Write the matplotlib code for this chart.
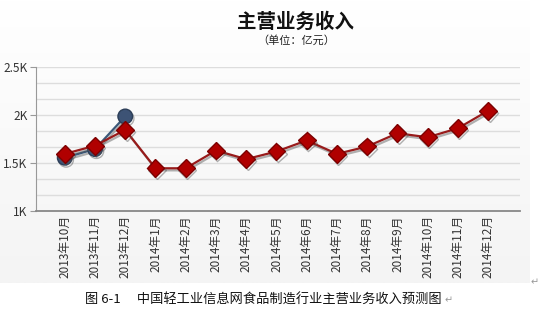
import numpy as np
import matplotlib
matplotlib.use('Agg')
from matplotlib import pyplot as plt
from matplotlib.ticker import FixedLocator
from matplotlib.colors import LinearSegmentedColormap
import matplotlib.patheffects as pe

plt.rcParams['font.family'] = ['Noto Sans CJK SC', 'DejaVu Sans']

months = ['2013年10月', '2013年11月', '2013年12月', '2014年1月', '2014年2月', '2014年3月',
          '2014年4月', '2014年5月', '2014年6月', '2014年7月', '2014年8月', '2014年9月',
          '2014年10月', '2014年11月', '2014年12月']
forecast = [1595, 1680, 1845, 1445, 1445, 1630, 1540, 1620, 1735, 1595, 1672, 1810, 1768, 1862, 2045]
actual = [1555, 1645, 1985]
ytick_vals = [1000, 1500, 2000, 2500]
ytick_labels = ['1K', '1.5K', '2K', '2.5K']

fig = plt.figure(figsize=(5.55, 3.29), dpi=100)

# faint grey backdrop of the chart picture (white at top, light grey at bottom)
bg = fig.add_axes([0, 1 - 283 / 329, 530 / 555, 283 / 329])
cmap = LinearSegmentedColormap.from_list('bg', ['#ffffff', '#f4f4f4'])
grad = np.linspace(0, 1, 100).reshape(-1, 1)
bg.imshow(grad, cmap=cmap, vmin=0, vmax=1, aspect='auto', extent=[0, 1, 0, 1], origin='upper')
bg.axis('off')

ax = fig.add_axes([36 / 555, 1 - 211 / 329, 484 / 555, 144 / 329])
ax.patch.set_alpha(0)

x = np.arange(len(months))
shadow = [pe.SimpleLineShadow(offset=(1, -1.5), shadow_color='#555555', alpha=0.45), pe.Normal()]

ax.plot(x[:len(actual)], actual, color='#3b5878', lw=1.6, marker='o', markersize=10.5,
        markerfacecolor='#3d5375', markeredgecolor='#2c3e58', zorder=3, path_effects=shadow)
ax.plot(x, forecast, color='#981b1b', lw=1.6, marker='D', markersize=9,
        markerfacecolor='#b00000', markeredgecolor='#7c0000', zorder=4, path_effects=shadow)

ax.set_xlim(-0.95, 15.05)
ax.set_ylim(1000, 2500)
ax.set_xticks(x)
ax.set_xticklabels(months, rotation=90, fontsize=8.5, color='#333333')
ax.set_yticks(ytick_vals)
ax.set_yticklabels(ytick_labels, fontsize=8.5, color='#333333')
ax.yaxis.set_minor_locator(FixedLocator([1000 + k * 500 / 3 for k in range(10)]))
ax.grid(axis='y', which='both', color='#dddddd', lw=1)
ax.set_axisbelow(True)
ax.tick_params(axis='x', length=0, pad=3)
ax.tick_params(axis='y', which='major', length=4, color='#999999', pad=2)
ax.tick_params(axis='y', which='minor', length=0)
for s in ['top', 'right']:
    ax.spines[s].set_visible(False)
ax.spines['left'].set_color('#999999')
ax.spines['bottom'].set_color('#888888')
ax.spines['bottom'].set_linewidth(1.3)

fig.text(296 / 555, 1 - 22 / 329, '主营业务收入', fontsize=14, fontweight='bold',
         ha='center', va='center', color='#111111')
fig.text(296 / 555, 1 - 40 / 329, '（单位：亿元）', fontsize=8, ha='center', va='center', color='#222222')
fig.text(535 / 555, 1 - 282 / 329, '↵', fontsize=7, ha='center', va='center', color='#999999',
         family=['DejaVu Sans'])
fig.text(85 / 555, 1 - 300 / 329, '图 6-1　 中国轻工业信息网食品制造行业主营业务收入预测图', fontsize=9.5,
         ha='left', va='center', color='#111111')
fig.text(445 / 555, 1 - 300 / 329, '↵', fontsize=7, ha='left', va='center', color='#999999',
         family=['DejaVu Sans'])

fig.savefig('out.png', dpi=100)
